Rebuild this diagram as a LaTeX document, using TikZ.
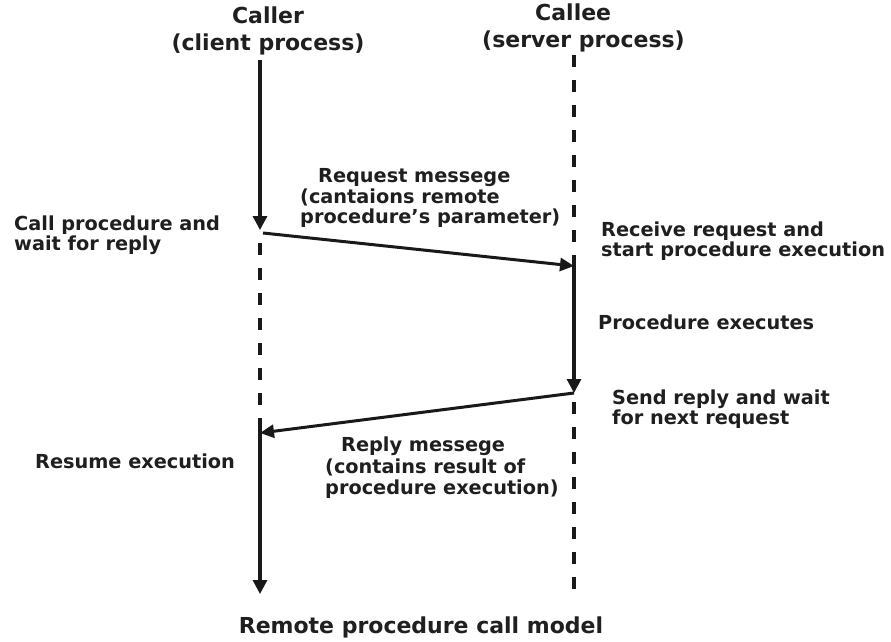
\documentclass[tikz,border=0pt]{standalone}
\usepackage{fontspec}
\setmainfont{DejaVu Sans}
\usetikzlibrary{arrows.meta}
\begin{document}
\begin{tikzpicture}[x=1pt,y=-1pt,
  lbl/.style={font=\bfseries\fontsize{19.3}{20.5}\selectfont, inner sep=0pt, align=left, anchor=west, text=black!88},
  head/.style={font=\bfseries\fontsize{22}{27}\selectfont, inner sep=0pt, text=black!88},
  life/.style={line width=3.1pt, black!90},
  dashlife/.style={line width=3.4pt, black!90, dash pattern=on 12pt off 13pt},
  tip/.style={-{Triangle[length=14pt,width=14pt]}},
  msg/.style={line width=3pt, black!90, -{Triangle[length=14pt,width=13pt]}}]
\useasboundingbox (0,0) rectangle (891,642);
\fill[white] (0,0) rectangle (891,642);

% process headers
\node[head, align=center] (caller) at (268,31) {Caller\\(client process)};
\node[head, align=left, anchor=west] (callee) at (482,28) {\hspace*{53pt}Callee\\(server process)};

% lifeline points
\coordinate (c0) at (260,60);
\coordinate (c1) at (260,230);
\coordinate (c2) at (260,433);
\coordinate (c3) at (260,594);
\coordinate (c1b) at (260,243);
\coordinate (c2a) at (260,428);
\coordinate (rqs) at (263,233);
\coordinate (s0) at (574,55);
\coordinate (s1) at (574,266);
\coordinate (s2) at (574,393);
\coordinate (s3) at (574,596);
\coordinate (s2b) at (574,402);

% caller lifeline
\draw[life, tip] (c0) -- (c1);
\draw[dashlife] (c1b) -- (c2a);
\draw[life, tip] (c2a) -- (c3);

% callee lifeline
\draw[dashlife] (s0) -- (s1);
\draw[life, tip] (s1) -- (s2);
\draw[dashlife] (s2b) -- (s3);

% messages
\draw[msg] (rqs) -- (s1);
\draw[msg] (s2) -- (c2);

% labels
\node[lbl] (req) at (300,198) {\hspace*{18pt}Request messege\\(cantaions remote\\procedure's parameter)};
\node[lbl] (call) at (14,235) {Call procedure and\\wait for reply};
\node[lbl] (recv) at (601,241) {Receive request and\\start procedure execution};
\node[lbl] (exec) at (598,322) {Procedure executes};
\node[lbl] (send) at (612,409) {Send reply and wait\\for next request};
\node[lbl] (resume) at (35,461) {Resume execution};
\node[lbl, font=\bfseries\fontsize{19.3}{21.5}\selectfont] (rep) at (325,468) {\hspace*{16pt}Reply messege\\(contains result of\\procedure execution)};

% caption
\node[head] (title) at (421,627) {Remote procedure call model};
\end{tikzpicture}
\end{document}
